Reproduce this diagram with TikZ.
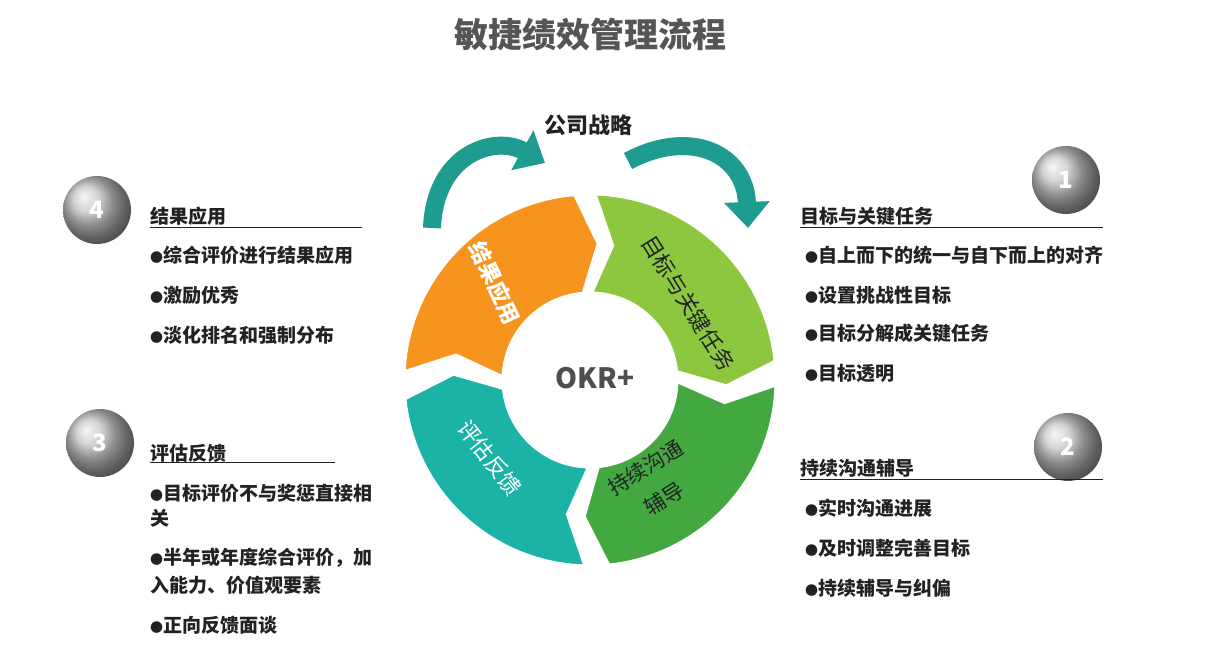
\documentclass[tikz,border=0pt]{standalone}
\usepackage{fontspec}
\setmainfont{Noto Sans CJK SC}
\usetikzlibrary{arrows.meta,shadings,calc}
\definecolor{ttl}{HTML}{555555}
\definecolor{txt}{HTML}{222222}
\definecolor{org}{HTML}{F7941D}
\definecolor{lgr}{HTML}{8DC63F}
\definecolor{dgr}{HTML}{43A83F}
\definecolor{tea}{HTML}{1AB3A6}
\definecolor{arr}{HTML}{1E9C8F}
\newcommand{\bul}{{\fontsize{13}{15}\selectfont ●}}
\tikzset{
  item/.style={anchor=west,font=\fontsize{19}{23}\selectfont\bfseries,text=txt,inner sep=0pt},
  head/.style={anchor=west,font=\fontsize{19}{23}\selectfont\bfseries,text=txt,inner sep=0pt},
  numc/.style={circle,minimum size=68pt,inner sep=0pt,ball color=gray!45,text=white,font=\fontsize{24}{28}\selectfont\bfseries},
  segtxt/.style={font=\fontsize{22}{26}\selectfont\bfseries,inner sep=0pt},
  bigarr/.style={arr,line width=18pt,-{Triangle[length=26pt,width=44pt]}}
}
\newcommand{\ringseg}[2]{%
  \pgfmathsetmacro{\ee}{#1-82}\pgfmathsetmacro{\tp}{#1-90}\pgfmathsetmacro{\nt}{#1-8}%
  \fill[#2,draw=white,line width=1pt] (590,273)++(#1:185) arc[start angle=#1,end angle=\ee,radius=185]
    -- ($(590,273)+(\tp:136.5)$) -- ($(590,273)+(\ee:88)$) arc[start angle=\ee,end angle=#1,radius=88]
    -- ($(590,273)+(\nt:136.5)$) -- cycle;}
\begin{document}
\begin{tikzpicture}[x=1pt,y=1pt]
\useasboundingbox (0,0) rectangle (1227,653);
\fill[white] (0,0) rectangle (1227,653);
\node[font=\fontsize{34}{40}\selectfont\bfseries,text=ttl] (title) at (590,618) {敏捷绩效管理流程};
\node[font=\fontsize{22}{26}\selectfont\bfseries,text=txt] (strat) at (588,528) {公司战略};
% ring
\ringseg{177}{org}
\ringseg{88}{lgr}
\ringseg{-2}{dgr}
\ringseg{-92}{tea}
\node[font=\fontsize{28}{32}\selectfont\bfseries,text=txt!80] (okr) at (595,275) {OKR+};
\node[segtxt,text=white,rotate=-65] (s1) at (495,370) {结果应用};
\node[segtxt,text=txt,rotate=-58,font=\fontsize{22}{26}\selectfont] (s2) at (688,350) {目标与关键任务};
\node[segtxt,text=white,rotate=-52,font=\fontsize{22}{26}\selectfont] (s3) at (490,195) {评估反馈};
\node[segtxt,text=txt,rotate=32,align=center,font=\fontsize{21}{36}\selectfont] (s4) at (655,170) {持续沟通\\辅导};
% curved arrows
\coordinate (la) at (432,425); \coordinate (lb) at (545,490);
\coordinate (ra) at (628,492); \coordinate (rb) at (748,425);
\draw[bigarr] (la) .. controls (435,500) and (495,518) .. (lb);
\draw[bigarr] (ra) .. controls (690,525) and (745,500) .. (rb);
% number circles
\node[numc] (n1) at (1066,473) {1};
\node[numc] (n2) at (1068,206) {2};
\node[numc] (n4) at (97,443) {4};
\node[numc] (n3) at (100,210) {3};
% right lists
\node[head] (h1) at (800,437) {目标与关键任务};
\draw[txt,line width=1pt] (800,425) -- (1103,425);
\node[item] at (805,398) {\bul 自上而下的统一与自下而上的对齐};
\node[item] at (805,358) {\bul 设置挑战性目标};
\node[item] at (805,320) {\bul 目标分解成关键任务};
\node[item] at (805,280) {\bul 目标透明};
\node[head] (h2) at (800,185) {持续沟通辅导};
\draw[txt,line width=1pt] (800,173) -- (1103,173);
\node[item] at (805,145) {\bul 实时沟通进展};
\node[item] at (805,105) {\bul 及时调整完善目标};
\node[item] at (805,65) {\bul 持续辅导与纠偏};
% left lists
\node[head] (h4) at (150,437) {结果应用};
\draw[txt,line width=1pt] (150,425) -- (362,425);
\node[item] at (150,398) {\bul 综合评价进行结果应用};
\node[item] at (150,358) {\bul 激励优秀};
\node[item] at (150,318) {\bul 淡化排名和强制分布};
\node[head] (h3) at (150,200) {评估反馈};
\draw[txt,line width=1pt] (150,190) -- (335,190);
\node[item] at (150,160) {\bul 目标评价不与奖惩直接相};
\node[item] at (150,135) {关};
\node[item] at (150,95) {\bul 半年或年度综合评价，加};
\node[item] at (150,68) {入能力、价值观要素};
\node[item] at (150,28) {\bul 正向反馈面谈};
\end{tikzpicture}
\end{document}
